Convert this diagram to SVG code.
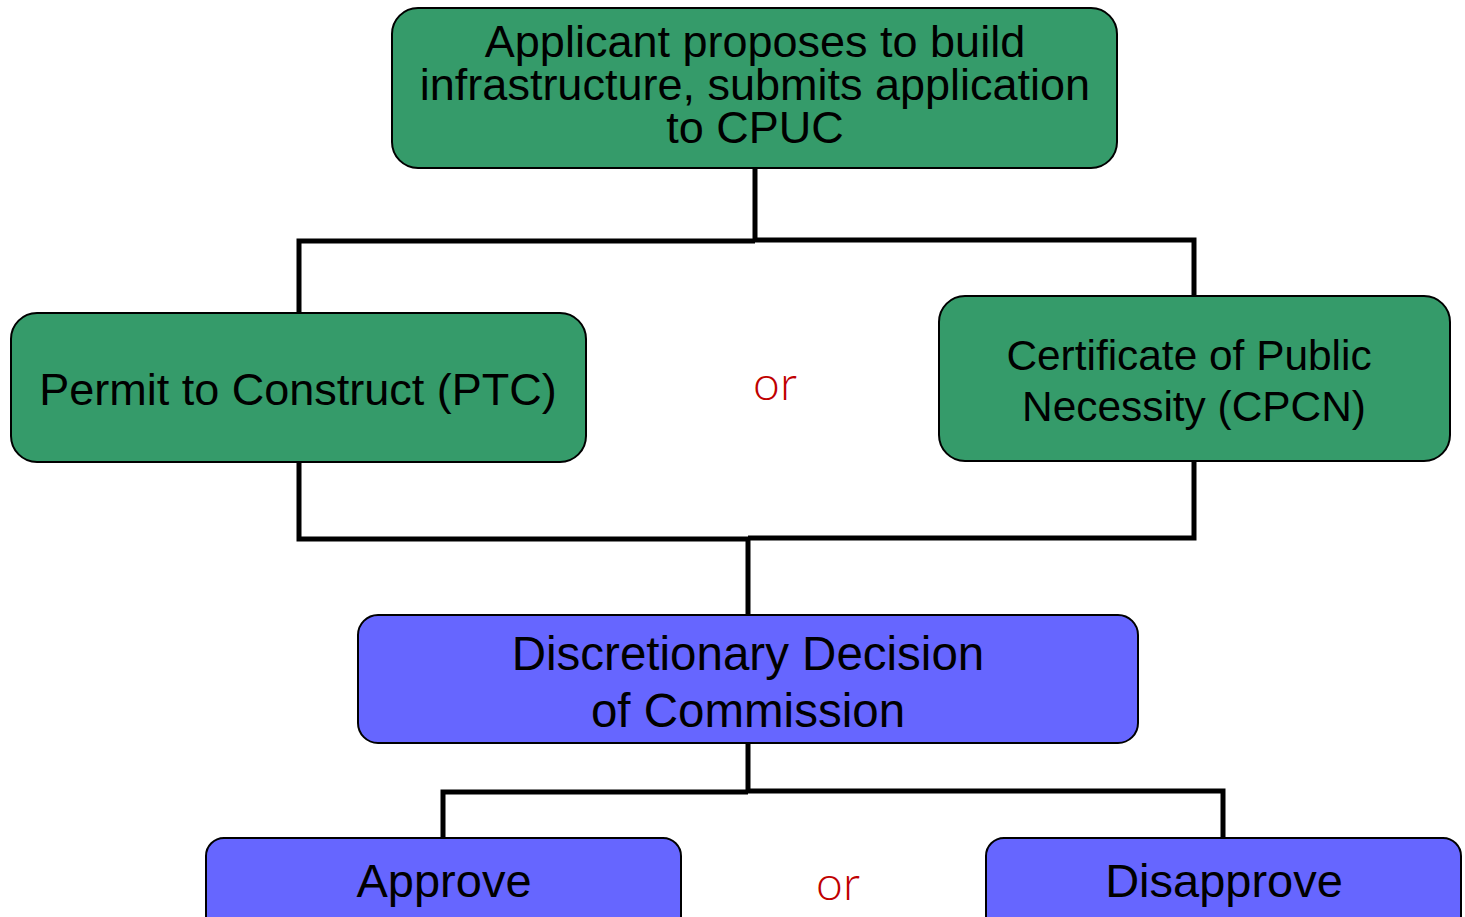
<svg xmlns="http://www.w3.org/2000/svg" width="1465" height="917" viewBox="0 0 1465 917">
  <style>
    .green { fill: #359b6a; stroke: #000; stroke-width: 2; }
    .blue { fill: #6666ff; stroke: #000; stroke-width: 2; }
    .label { font-family: "Liberation Sans", Arial, sans-serif; fill: #000; text-anchor: middle; }
    .or { font-family: Lato, "Liberation Sans", sans-serif; font-weight: 300; fill: #c00000; text-anchor: middle; font-size: 48px; }
    .wire { fill: none; stroke: #000; stroke-width: 5; stroke-linecap: butt; stroke-linejoin: miter; }
  </style>
  <rect width="1465" height="917" fill="#fff"/>

  <!-- connectors -->
  <g id="connectors">
    <path class="wire" d="M755 168 V241"/>
    <path class="wire" d="M299 313 V241 H755"/>
    <path class="wire" d="M755 240 H1194 V296"/>
    <path class="wire" d="M299 462 V539 H748"/>
    <path class="wire" d="M748 538 H1194 V461"/>
    <path class="wire" d="M748 537 V615"/>
    <path class="wire" d="M748 743 V792"/>
    <path class="wire" d="M443 838 V792 H748"/>
    <path class="wire" d="M748 791 H1223 V838"/>
  </g>

  <g id="applicant">
    <rect class="green" x="392" y="8" width="725" height="160" rx="26"/>
    <text class="label" font-size="45" x="755" y="57">Applicant proposes to build</text>
    <text class="label" font-size="45" x="755" y="100">infrastructure, submits application</text>
    <text class="label" font-size="45" x="755" y="143">to CPUC</text>
  </g>

  <g id="ptc">
    <rect class="green" x="11" y="313" width="575" height="149" rx="26"/>
    <text class="label" font-size="45" x="298" y="405">Permit to Construct (PTC)</text>
  </g>

  <g id="or-top">
    <text class="or" x="775" y="400">or</text>
  </g>

  <g id="cpcn">
    <rect class="green" x="939" y="296" width="511" height="165" rx="26"/>
    <text class="label" font-size="42.4" x="1189" y="370">Certificate of Public</text>
    <text class="label" font-size="42.4" x="1194" y="421">Necessity (CPCN)</text>
  </g>

  <g id="decision">
    <rect class="blue" x="358" y="615" width="780" height="128" rx="20"/>
    <text class="label" font-size="47.5" x="748" y="670">Discretionary Decision</text>
    <text class="label" font-size="47.5" x="748" y="727">of Commission</text>
  </g>

  <g id="approve">
    <rect class="blue" x="206" y="838" width="475" height="100" rx="18"/>
    <text class="label" font-size="47" x="444" y="897">Approve</text>
  </g>

  <g id="or-bottom">
    <text class="or" x="838" y="900">or</text>
  </g>

  <g id="disapprove">
    <rect class="blue" x="986" y="838" width="475" height="100" rx="18"/>
    <text class="label" font-size="47" x="1224" y="897">Disapprove</text>
  </g>
</svg>
